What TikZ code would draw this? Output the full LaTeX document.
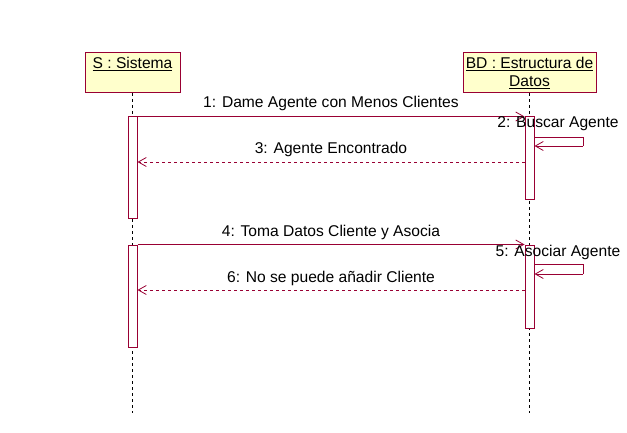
\documentclass[tikz,border=0pt]{standalone}
\usepackage{fontspec}
\setmainfont{Liberation Sans}
\usetikzlibrary{arrows.meta,calc}
\definecolor{umlred}{RGB}{153,0,51}
\definecolor{umlfill}{RGB}{255,255,204}
\tikzset{
  objbox/.style={draw=umlred, fill=umlfill, line width=1pt, inner sep=0pt, anchor=north west},
  lifeline/.style={draw=black, line width=1pt, dash pattern=on 3pt off 3pt},
  act/.style={draw=umlred, fill=white, line width=1pt, minimum width=9pt, inner sep=0pt, rectangle},
  msg/.style={draw=umlred, line width=0.8pt, -{Straight Barb[length=8pt,width=9pt,line width=0.8pt]}},
  ret/.style={msg, dash pattern=on 3pt off 3pt},
  lbl/.style={font=\fontsize{15.6}{18}\selectfont, inner sep=0pt, text=black}
}
\begin{document}
\begin{tikzpicture}[x=1pt,y=-1pt]
\path[use as bounding box, fill=white] (0,0) rectangle (627,433);
% object boxes
\node[objbox, minimum width=95pt, minimum height=40pt] (S) at (85,52) {};
\node[objbox, minimum width=133pt, minimum height=40pt] (BD) at (463,52) {};
\node[lbl] (St) at (132.5,64) {\underline{S : Sistema}};
\node[lbl] (BDt1) at (529.5,64) {\underline{BD : Estructura de}};
\node[lbl] (BDt2) at (529.5,82) {\underline{Datos}};
% lifelines
\coordinate (Send) at (132.5,413);
\coordinate (BDend) at (529.5,413);
\draw[lifeline] (S.south -| St) -- (Send);
\draw[lifeline] (BD.south -| BDt1) -- (BDend);
% activations
\node[act, minimum height=102pt] (a1) at (132.5,168) {};
\node[act, minimum height=102pt] (a2) at (132.5,296) {};
\node[act, minimum height=83pt] (b1) at (529.5,158.5) {};
\node[act, minimum height=83pt] (b2) at (529.5,286.5) {};
% message 1
\draw[msg] (a1.north east) -- (b1.north west);
\node[lbl] (m1) at (331,103) {1: Dame Agente con Menos Clientes};
% self message 2
\coordinate (s2a) at (534,137);
\coordinate (s2b) at (583,137);
\coordinate (s2c) at (583,146);
\draw[umlred, line width=0.8pt] (b1.east |- s2a) -- (s2b) -- (s2c);
\draw[msg] (s2c) -- (b1.east |- s2c);
\node[lbl] (m2) at (558,124) {2: Buscar Agente};
% message 3
\coordinate (y3) at (0,162);
\draw[ret] (b1.west |- y3) -- (a1.east |- y3);
\node[lbl] (m3) at (331,149) {3: Agente Encontrado};
% message 4
\draw[msg] (a2.north east) -- (b2.north west);
\node[lbl] (m4) at (331,232) {4: Toma Datos Cliente y Asocia};
% self message 5
\coordinate (s5a) at (534,264);
\coordinate (s5b) at (583,264);
\coordinate (s5c) at (583,274);
\draw[umlred, line width=0.8pt] (b2.east |- s5a) -- (s5b) -- (s5c);
\draw[msg] (s5c) -- (b2.east |- s5c);
\node[lbl] (m5) at (558,252) {5: Asociar Agente};
% message 6
\coordinate (y6) at (0,290);
\draw[ret] (b2.west |- y6) -- (a2.east |- y6);
\node[lbl] (m6) at (331,278) {6: No se puede añadir Cliente};
\end{tikzpicture}
\end{document}
